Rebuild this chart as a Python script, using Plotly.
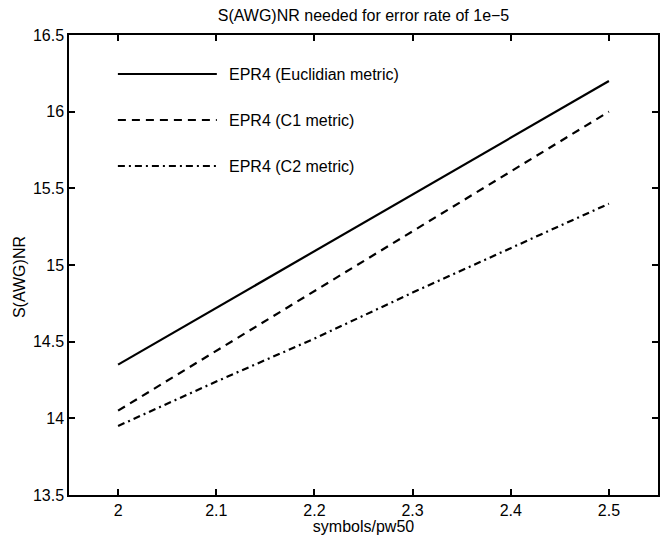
import plotly.graph_objects as go

# ---- data ----
x_vals = [2.0, 2.1, 2.2, 2.3, 2.4, 2.5]
euclid = [14.35, 14.72, 15.09, 15.46, 15.83, 16.20]
c1_metric = [14.05, 14.44, 14.83, 15.22, 15.61, 16.00]
c2_metric = [13.95, 14.24, 14.52, 14.82, 15.11, 15.40]
series_names = ["EPR4 (Euclidian metric)", "EPR4 (C1 metric)", "EPR4 (C2 metric)"]
x_tickvals = [2.0, 2.1, 2.2, 2.3, 2.4, 2.5]
x_ticktext = ["2", "2.1", "2.2", "2.3", "2.4", "2.5"]
y_tickvals = [13.5, 14.0, 14.5, 15.0, 15.5, 16.0, 16.5]
y_ticktext = ["13.5", "14", "14.5", "15", "15.5", "16", "16.5"]

FONT = "Liberation Sans, Arial, Helvetica, sans-serif"
dashes = ["solid", "8px,6px", "7px,4px,2px,4px"]
series = [euclid, c1_metric, c2_metric]

fig = go.Figure()
for name, ys, d in zip(series_names, series, dashes):
    fig.add_trace(go.Scatter(x=x_vals, y=ys, mode="lines", name=name,
                             line=dict(color="black", width=2.2, dash=d),
                             showlegend=False))

# manual legend (long line samples like the original)
leg_y = [0.915, 0.815, 0.715]
for name, d, yy in zip(series_names, dashes, leg_y):
    fig.add_shape(type="line", xref="paper", yref="paper",
                  x0=0.083, x1=0.251, y0=yy, y1=yy,
                  line=dict(color="black", width=2, dash=d))
    fig.add_annotation(xref="paper", yref="paper", x=0.268, y=yy,
                       text=name, showarrow=False, xanchor="left", yanchor="middle",
                       font=dict(family=FONT, size=16, color="black"))

# y axis title
fig.add_annotation(xref="paper", yref="paper", x=-0.083, y=0.474,
                   text="S(AWG)NR", textangle=-90, showarrow=False,
                   xanchor="center", yanchor="middle",
                   font=dict(family=FONT, size=16, color="black"))

axis_common = dict(showgrid=False, zeroline=False, showline=True, linecolor="black",
                   linewidth=1.5, mirror="ticks", ticks="inside", ticklen=6,
                   tickwidth=1.5, tickcolor="black", automargin=False,
                   tickfont=dict(family=FONT, size=16, color="black"))

fig.update_layout(
    width=663, height=535,
    margin=dict(l=69, r=5, t=35, b=40),
    paper_bgcolor="white", plot_bgcolor="white",
    title=dict(text="S(AWG)NR needed for error rate of 1e\u22125",
               x=0.5, xref="paper", y=1 - 15 / 535, yref="container",
               xanchor="center", yanchor="middle",
               font=dict(family=FONT, size=16, color="black")),
    xaxis=dict(range=[1.95, 2.55], tickmode="array", tickvals=x_tickvals,
               ticktext=x_ticktext,
               title=dict(text="symbols/pw50", standoff=5,
                          font=dict(family=FONT, size=16, color="black")),
               **axis_common),
    yaxis=dict(range=[13.5, 16.5], tickmode="array", tickvals=y_tickvals,
               ticktext=y_ticktext, **axis_common),
)

fig.write_html("out.html", config={"displayModeBar": False},
               post_script="document.body.style.margin='0';")
